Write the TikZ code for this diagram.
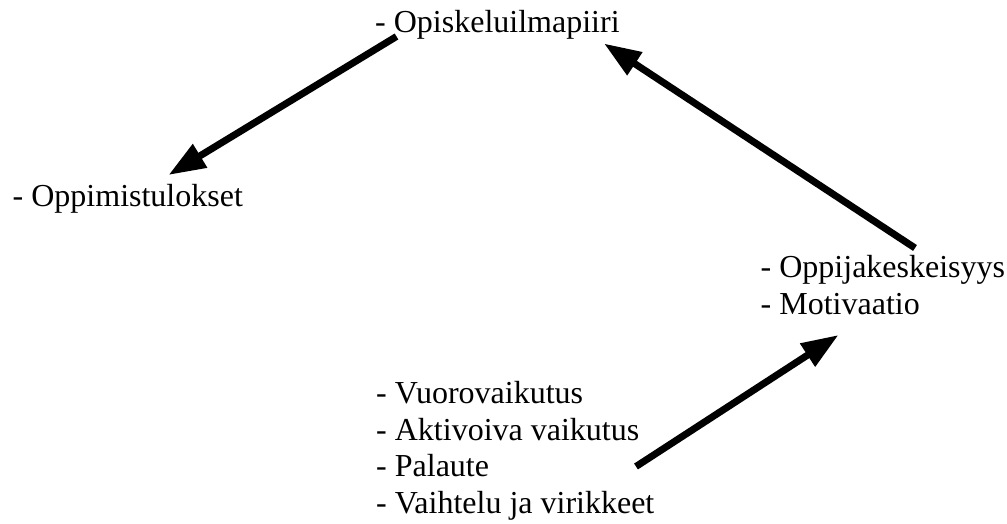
\documentclass[tikz,border=0pt]{standalone}
\usepackage{fontspec}
\setmainfont{Liberation Serif}
\usetikzlibrary{arrows.meta}

\begin{document}
\begin{tikzpicture}[
  x=1pt, y=-1pt,
  lbl/.style={anchor=base west, inner sep=0pt, align=left,
              font=\fontsize{32}{36.5}\selectfont},
  arr/.style={-{Triangle[length=37pt,width=26pt]}, line width=7pt}
]
  \useasboundingbox (0,0) rectangle (1007,524);

  % base anchor of a multi-line node sits on its last line
  \node[lbl] (ilma) at (375,33) {- Opiskeluilmapiiri};
  \node[lbl] (tulos) at (12.5,206.5) {- Oppimistulokset};
  \node[lbl] (oppija) at (760.5,314) {- Oppijakeskeisyys\\- Motivaatio};
  \node[lbl] (vuoro) at (376,513) {- Vuorovaikutus\\- Aktivoiva vaikutus\\- Palaute\\- Vaihtelu ja virikkeet};

  % arrow ends
  \coordinate (ilma-out) at (396.5,36.5);
  \coordinate (tulos-in) at (168.5,175);
  \coordinate (oppija-out) at (915,248);
  \coordinate (ilma-in) at (604,43.5);
  \coordinate (vuoro-out) at (636,466.5);
  \coordinate (oppija-in) at (838.5,335);

  \draw[arr] (ilma-out) -- (tulos-in);
  \draw[arr] (oppija-out) -- (ilma-in);
  \draw[arr] (vuoro-out) -- (oppija-in);
\end{tikzpicture}
\end{document}
